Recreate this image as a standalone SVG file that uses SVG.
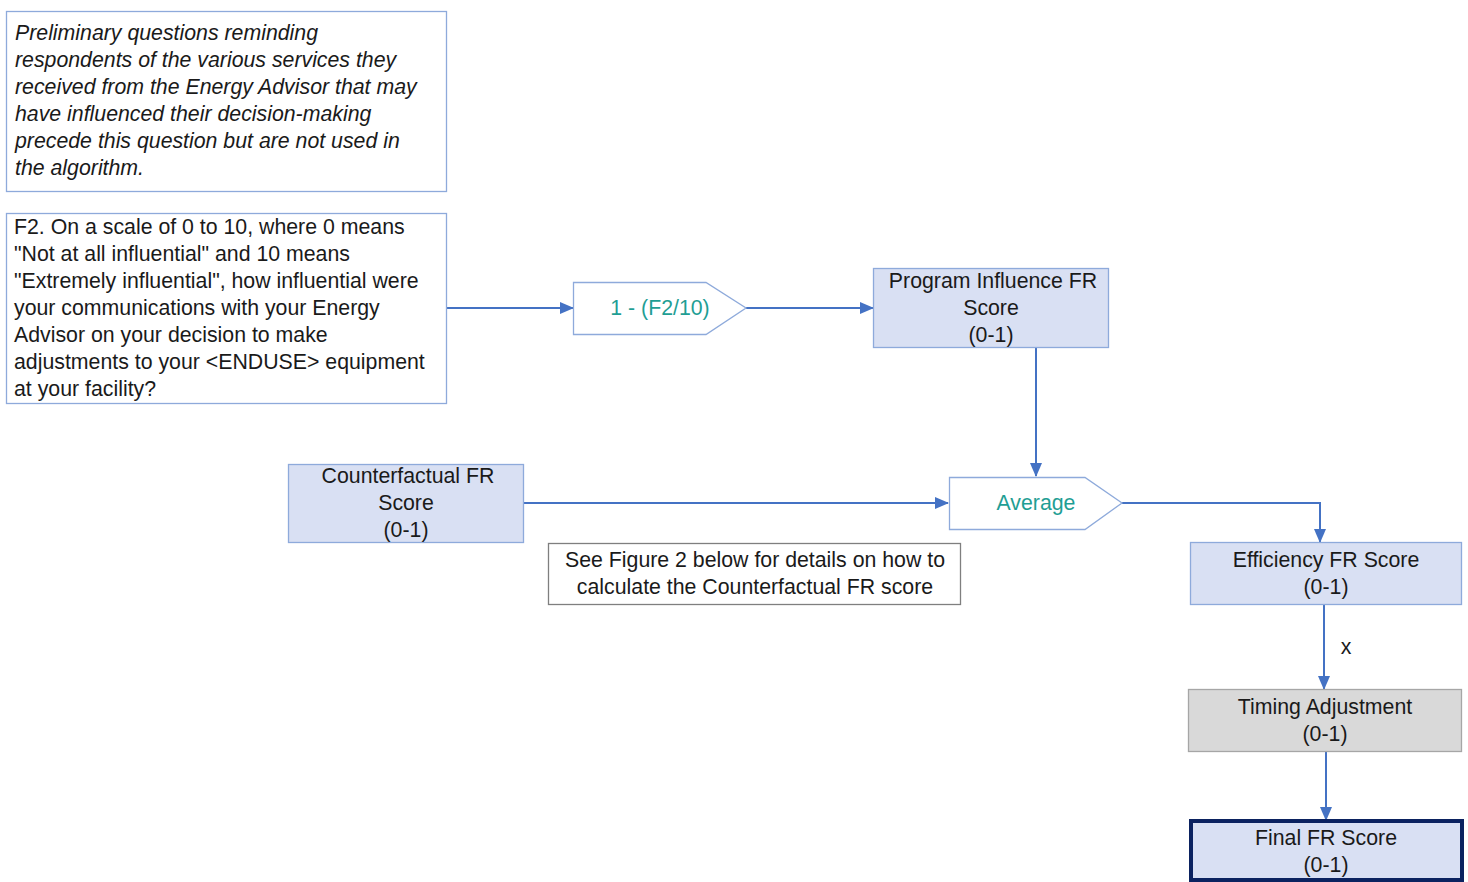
<svg xmlns="http://www.w3.org/2000/svg" width="1468" height="882" viewBox="0 0 1468 882">
<defs>
<style>
.t{font-family:"Liberation Sans",Arial,sans-serif;font-size:21.3px;fill:#1a1a1a}
.it{font-style:italic}
.c{text-anchor:middle}
.teal{fill:#1f9e94}
.note{fill:#fff;stroke:#8eaadb;stroke-width:1.3}
.blue{fill:#d9e0f3;stroke:#8eaadb;stroke-width:1.3}
.gray{fill:#d9d9d9;stroke:#a6a6a6;stroke-width:1.3}
.plain{fill:#fff;stroke:#7f7f7f;stroke-width:1.3}
.con{fill:none;stroke:#4472c4;stroke-width:2}
</style>
<marker id="ah" markerWidth="14" markerHeight="12" refX="13" refY="6" orient="auto" markerUnits="userSpaceOnUse">
<path d="M0,0 L14,6 L0,12 z" fill="#4472c4"/>
</marker>
</defs>
<rect width="1468" height="882" fill="#fff"/>
<g id="connectors">
<line class="con" x1="446" y1="308" x2="573" y2="308" marker-end="url(#ah)"/>
<line class="con" x1="746" y1="308" x2="873" y2="308" marker-end="url(#ah)"/>
<line class="con" x1="1036" y1="347" x2="1036" y2="476" marker-end="url(#ah)"/>
<line class="con" x1="523" y1="503" x2="948" y2="503" marker-end="url(#ah)"/>
<polyline class="con" points="1122,503 1320,503 1320,542" marker-end="url(#ah)"/>
<line class="con" x1="1324" y1="604" x2="1324" y2="689" marker-end="url(#ah)"/>
<text class="t" x="1346" y="654" font-size="16" text-anchor="middle">x</text>
<line class="con" x1="1326" y1="751" x2="1326" y2="820" marker-end="url(#ah)"/>
</g>
<g id="prelim">
<rect class="note" x="6.5" y="11.5" width="440" height="180"/>
<text class="t it" x="15" y="40">Preliminary questions reminding</text>
<text class="t it" x="15" y="67">respondents of the various services they</text>
<text class="t it" x="15" y="94">received from the Energy Advisor that may</text>
<text class="t it" x="15" y="121">have influenced their decision-making</text>
<text class="t it" x="15" y="148">precede this question but are not used in</text>
<text class="t it" x="15" y="175">the algorithm.</text>
</g>
<g id="f2">
<rect class="note" x="6.5" y="213.5" width="440" height="190"/>
<text class="t" x="14" y="234">F2. On a scale of 0 to 10, where 0 means</text>
<text class="t" x="14" y="261">"Not at all influential" and 10 means</text>
<text class="t" x="14" y="288">"Extremely influential", how influential were</text>
<text class="t" x="14" y="315">your communications with your Energy</text>
<text class="t" x="14" y="342">Advisor on your decision to make</text>
<text class="t" x="14" y="369">adjustments to your &lt;ENDUSE&gt; equipment</text>
<text class="t" x="14" y="396">at your facility?</text>
</g>
<g id="formula">
<polygon class="note" points="573.5,282.5 706,282.5 746,308 706,334.5 573.5,334.5"/>
<text class="t teal c" x="660" y="315">1 - (F2/10)</text>
</g>
<g id="program">
<rect class="blue" x="873.5" y="268.5" width="235" height="79"/>
<text class="t c" x="993" y="288">Program Influence FR</text>
<text class="t c" x="991" y="315">Score</text>
<text class="t c" x="991" y="342">(0-1)</text>
</g>
<g id="average">
<polygon class="note" points="949.5,477.5 1085,477.5 1122,503 1085,529.5 949.5,529.5"/>
<text class="t teal c" x="1036" y="510">Average</text>
</g>
<g id="counterfactual">
<rect class="blue" x="288.5" y="464.5" width="235" height="78"/>
<text class="t c" x="408" y="483">Counterfactual FR</text>
<text class="t c" x="406" y="510">Score</text>
<text class="t c" x="406" y="537">(0-1)</text>
</g>
<g id="seenote">
<rect class="plain" x="548.5" y="543.5" width="412" height="61"/>
<text class="t c" x="755" y="567">See Figure 2 below for details on how to</text>
<text class="t c" x="755" y="594">calculate the Counterfactual FR score</text>
</g>
<g id="efficiency">
<rect class="blue" x="1190.5" y="542.5" width="271" height="62"/>
<text class="t c" x="1326" y="567">Efficiency FR Score</text>
<text class="t c" x="1326" y="594">(0-1)</text>
</g>
<g id="timing">
<rect class="gray" x="1188.5" y="689.5" width="273" height="62"/>
<text class="t c" x="1325" y="714">Timing Adjustment</text>
<text class="t c" x="1325" y="741">(0-1)</text>
</g>
<g id="final">
<rect x="1191" y="821" width="271" height="59" fill="#d9e0f3" stroke="#0b2260" stroke-width="4"/>
<text class="t c" x="1326" y="845">Final FR Score</text>
<text class="t c" x="1326" y="872">(0-1)</text>
</g>
</svg>
